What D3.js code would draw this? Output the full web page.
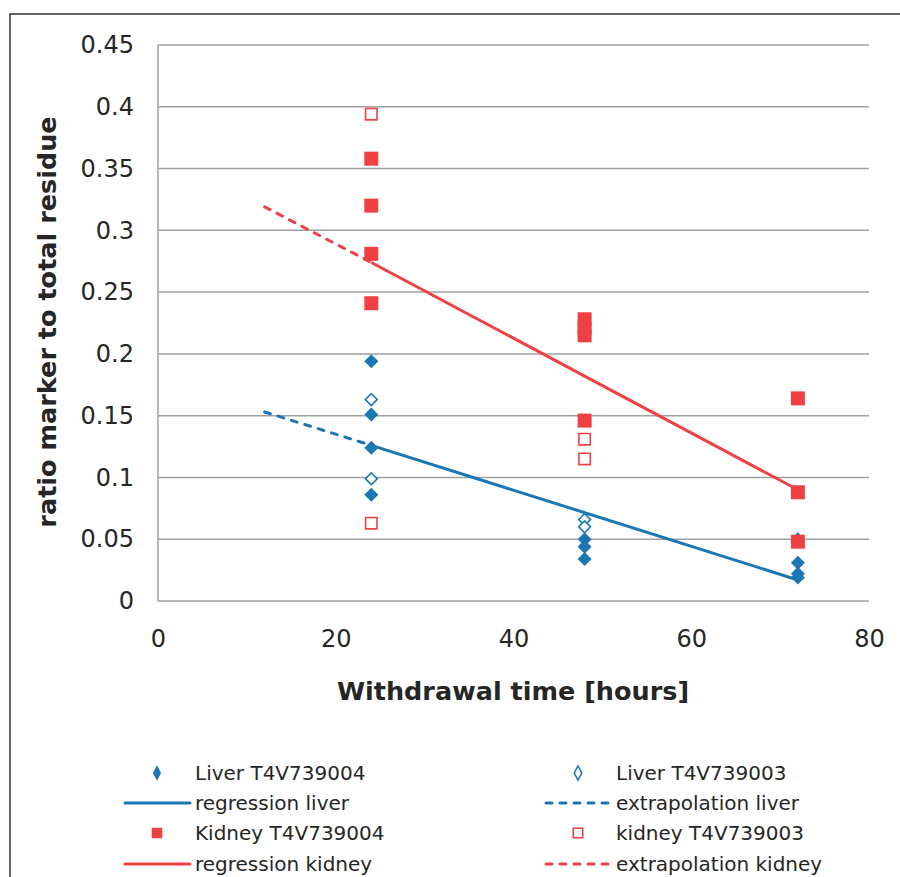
<!DOCTYPE html>
<html>
<head>
<meta charset="utf-8">
<script src="https://cdn.jsdelivr.net/npm/d3@7"></script>
<style>
  body { margin: 0; background: #fff; }
  text { font-family: "DejaVu Sans", Verdana, sans-serif; fill: #262626; }
</style>
</head>
<body>
<div id="chart-container"></div>
<script>
// [hours, ratio]
const liver004 = [[24, 0.194], [24, 0.151], [24, 0.124], [24, 0.086],
                  [48, 0.050], [48, 0.044], [48, 0.034],
                  [72, 0.050], [72, 0.031], [72, 0.022], [72, 0.019]];
const liver003 = [[24, 0.163], [24, 0.099], [48, 0.066], [48, 0.060]];
const kidney004 = [[24, 0.358], [24, 0.320], [24, 0.281], [24, 0.241],
                   [48, 0.228], [48, 0.221], [48, 0.215], [48, 0.146],
                   [72, 0.164], [72, 0.088], [72, 0.048]];
const kidney003 = [[24, 0.394], [24, 0.063], [48, 0.131], [48, 0.115]];

const liverReg = [[24, 0.126], [72, 0.017]];
const liverExt = [[12, 0.153], [24, 0.126]];
const kidneyReg = [[24, 0.274], [72, 0.090]];
const kidneyExt = [[12, 0.319], [24, 0.274]];

const xTicks = [0, 20, 40, 60, 80];
const yTicks = [0, 0.05, 0.1, 0.15, 0.2, 0.25, 0.3, 0.35, 0.4, 0.45];

const blue = "#1b76b4";
const red = "#ef4144";

const width = 900;
const height = 877;
const marginLeft = 158, marginRight = 31, marginTop = 45, marginBottom = 276;

const x = d3.scaleLinear().domain([0, 80]).range([marginLeft, width - marginRight]);
const y = d3.scaleLinear().domain([0, 0.45]).range([height - marginBottom, marginTop]);

const svg = d3.select("#chart-container").append("svg")
    .attr("width", width)
    .attr("height", height)
    .attr("viewBox", [0, 0, width, height]);

// outer chart border (only top and left visible)
svg.append("rect")
    .attr("x", 10).attr("y", 14)
    .attr("width", 920).attr("height", 900)
    .attr("fill", "none")
    .attr("stroke", "#333")
    .attr("stroke-width", 1.5);

// gridlines
svg.append("g")
  .selectAll("line")
  .data(yTicks)
  .join("line")
    .attr("x1", marginLeft).attr("x2", width - marginRight)
    .attr("y1", d => y(d)).attr("y2", d => y(d))
    .attr("stroke", "#a0a0a0")
    .attr("stroke-width", 1.5);

svg.append("line")
    .attr("x1", marginLeft).attr("x2", marginLeft)
    .attr("y1", y(0.45)).attr("y2", y(0))
    .attr("stroke", "#a0a0a0")
    .attr("stroke-width", 1.5);

// axes via d3 axis, then strip the domain/ticks
const yAxis = svg.append("g")
    .attr("transform", `translate(${marginLeft},0)`)
    .call(d3.axisLeft(y).tickValues(yTicks).tickSize(0).tickPadding(24).tickFormat(d => d3.format("")(+d.toFixed(2))));
yAxis.select(".domain").remove();
yAxis.selectAll("text").attr("font-size", 24).attr("font-family", "DejaVu Sans").attr("fill", "#262626");

const xAxis = svg.append("g")
    .attr("transform", `translate(0,${y(0)})`)
    .call(d3.axisBottom(x).tickValues(xTicks).tickSize(0).tickPadding(29));
xAxis.select(".domain").remove();
xAxis.selectAll("text").attr("font-size", 24).attr("font-family", "DejaVu Sans").attr("fill", "#262626");

svg.append("text")
    .attr("x", 513).attr("y", 700)
    .attr("text-anchor", "middle")
    .attr("font-weight", "bold")
    .attr("font-size", 25.5)
    .text("Withdrawal time [hours]");

svg.append("text")
    .attr("transform", "translate(56,322) rotate(-90)")
    .attr("text-anchor", "middle")
    .attr("font-weight", "bold")
    .attr("font-size", 25.5)
    .text("ratio marker to total residue");

const line = d3.line().x(d => x(d[0])).y(d => y(d[1]));

const diamond = d3.symbol().type(d3.symbolSquare);

function drawPoints(data, shape, color, filled) {
  const g = svg.append("g");
  g.selectAll("path")
    .data(data)
    .join("path")
      .attr("d", shape === "diamond"
          ? diamond.size(filled ? 98 : 70)()
          : d3.symbol().type(d3.symbolSquare).size(filled ? 196 : 130)())
      .attr("transform", d => `translate(${x(d[0])},${y(d[1])})` + (shape === "diamond" ? " rotate(45)" : ""))
      .attr("fill", filled ? color : "#fff")
      .attr("stroke", filled ? "none" : color)
      .attr("stroke-width", 1.6);
}

function drawLine(data, color, dashed) {
  svg.append("path")
    .datum(data)
    .attr("fill", "none")
    .attr("stroke", color)
    .attr("stroke-width", 3)
    .attr("stroke-linecap", dashed ? "round" : "butt")
    .attr("stroke-dasharray", dashed ? "6,8" : null)
    .attr("d", line);
}

drawPoints(liver004, "diamond", blue, true);
drawPoints(liver003, "diamond", blue, false);
drawLine(liverReg, blue, false);
drawLine(liverExt, blue, true);
drawPoints(kidney004, "square", red, true);
drawPoints(kidney003, "square", red, false);
drawLine(kidneyReg, red, false);
drawLine(kidneyExt, red, true);

// legend
const legendItems = [
  {label: "Liver T4V739004", kind: "diamond", color: blue, filled: true, col: 0, row: 0},
  {label: "Liver T4V739003", kind: "diamond", color: blue, filled: false, col: 1, row: 0},
  {label: "regression liver", kind: "line", color: blue, dashed: false, col: 0, row: 1},
  {label: "extrapolation liver", kind: "line", color: blue, dashed: true, col: 1, row: 1},
  {label: "Kidney T4V739004", kind: "square", color: red, filled: true, col: 0, row: 2},
  {label: "kidney T4V739003", kind: "square", color: red, filled: false, col: 1, row: 2},
  {label: "regression kidney", kind: "line", color: red, dashed: false, col: 0, row: 3},
  {label: "extrapolation kidney", kind: "line", color: red, dashed: true, col: 1, row: 3}
];
const colX = [124, 545];
const rowY = [773, 803, 833, 864];

const leg = svg.append("g");
legendItems.forEach(it => {
  const x0 = colX[it.col], yy = rowY[it.row];
  if (it.kind === "line") {
    leg.append("line")
      .attr("x1", x0 + 1).attr("x2", x0 + 66)
      .attr("y1", yy).attr("y2", yy)
      .attr("stroke", it.color)
      .attr("stroke-width", 3)
      .attr("stroke-linecap", "round")
      .attr("stroke-dasharray", it.dashed ? "6,8" : null);
  } else if (it.kind === "diamond") {
    leg.append("path")
      .attr("d", d3.symbol().type(d3.symbolDiamond).size(it.filled ? 70 : 60)())
      .attr("transform", `translate(${x0 + 33},${yy}) scale(0.9,1)`)
      .attr("fill", it.filled ? it.color : "#fff")
      .attr("stroke", it.filled ? "none" : it.color)
      .attr("stroke-width", 1.6);
  } else {
    leg.append("path")
      .attr("d", d3.symbol().type(d3.symbolSquare).size(it.filled ? 110 : 90)())
      .attr("transform", `translate(${x0 + 33},${yy})`)
      .attr("fill", it.filled ? it.color : "#fff")
      .attr("stroke", it.filled ? "none" : it.color)
      .attr("stroke-width", 1.6);
  }
  leg.append("text")
    .attr("x", x0 + 71)
    .attr("y", yy)
    .attr("dy", "0.35em")
    .attr("font-size", 20)
    .text(it.label);
});
</script>
</body>
</html>
